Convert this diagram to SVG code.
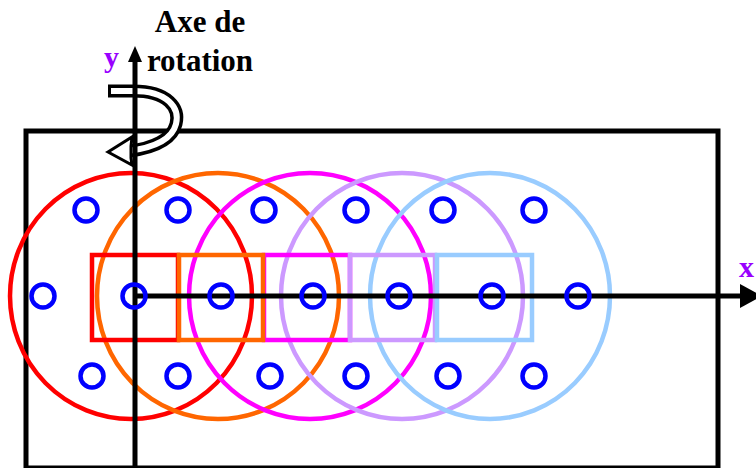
<svg xmlns="http://www.w3.org/2000/svg" width="756" height="468" viewBox="0 0 756 468">
<style>
.big{fill:none;stroke-width:4.5}
.rc{fill:none;stroke-width:4.5}
.dot{fill:none;stroke:#0000ff;stroke-width:4.5}
.lbl{font-family:"Liberation Serif","Times New Roman",serif;font-weight:bold}
.axis{stroke:#000;stroke-width:5;fill:none}
</style>
<rect width="756" height="468" fill="#fff"/>
<g id="frame"><rect x="26" y="131" width="692" height="337" fill="none" stroke="#000" stroke-width="5"/></g>
<g id="rotation-arrow">
<path d="M108,91 L133,91 C168,91 180,108 176,124 C172,140 152,148 130,151" fill="none" stroke="#000" stroke-width="13"/>
<path d="M111,91 L133,91 C168,91 180,108 176,124 C172,140 152,148 128,151" fill="none" stroke="#fff" stroke-width="6"/>
<polygon points="108,152 132,137 131,146 131,158 132,165" fill="#fff" stroke="#000" stroke-width="3" stroke-linejoin="miter"/>
</g>
<g id="circles">
<ellipse id="c-red" class="big" cx="131" cy="296" rx="121" ry="123" stroke="#ff0000"/>
<ellipse id="c-orange" class="big" cx="218" cy="296" rx="121" ry="123" stroke="#ff6600"/>
<ellipse id="c-magenta" class="big" cx="310" cy="296" rx="121" ry="123" stroke="#ff00ff"/>
<ellipse id="c-lilac" class="big" cx="402" cy="296" rx="121" ry="123" stroke="#cc99ff"/>
<ellipse id="c-blue" class="big" cx="490" cy="296" rx="120" ry="123" stroke="#99ccff"/>
</g>
<g id="rects">
<rect id="r-red" class="rc" x="92" y="255" width="86" height="85" stroke="#ff0000"/>
<rect id="r-magenta" class="rc" x="264" y="255" width="86" height="85" stroke="#ff00ff"/>
<rect id="r-orange" class="rc" x="179" y="255" width="84" height="85" stroke="#ff6600"/>
<rect id="r-lilac" class="rc" x="350" y="255" width="85" height="85" stroke="#cc99ff"/>
<rect id="r-blue" class="rc" x="437" y="255" width="95" height="85" stroke="#99ccff"/>
</g>
<g id="axes">
<line class="axis" x1="135" y1="468" x2="135" y2="60"/>
<polygon points="135,46 128,62 142,62" fill="#000"/>
<line class="axis" x1="135" y1="296" x2="744" y2="296"/>
<polygon points="740,284 762,296 740,308" fill="#000"/>
</g>
<g id="dots">
<circle class="dot" cx="86" cy="210" r="11.5"/>
<circle class="dot" cx="178" cy="210" r="11.5"/>
<circle class="dot" cx="264" cy="210" r="11.5"/>
<circle class="dot" cx="356" cy="210" r="11.5"/>
<circle class="dot" cx="443" cy="210" r="11.5"/>
<circle class="dot" cx="534" cy="210" r="11.5"/>
<circle class="dot" cx="43" cy="296" r="11.5"/>
<circle class="dot" cx="134" cy="296" r="11.5"/>
<circle class="dot" cx="221" cy="296" r="11.5"/>
<circle class="dot" cx="313" cy="296" r="11.5"/>
<circle class="dot" cx="399" cy="296" r="11.5"/>
<circle class="dot" cx="492" cy="296" r="11.5"/>
<circle class="dot" cx="578" cy="296" r="11.5"/>
<circle class="dot" cx="92" cy="376" r="11.5"/>
<circle class="dot" cx="178" cy="376" r="11.5"/>
<circle class="dot" cx="270" cy="376" r="11.5"/>
<circle class="dot" cx="356" cy="376" r="11.5"/>
<circle class="dot" cx="448" cy="376" r="11.5"/>
<circle class="dot" cx="534" cy="376" r="11.5"/>
</g>
<g id="labels">
<text class="lbl" x="200" y="32" font-size="31" text-anchor="middle" fill="#000">Axe de</text>
<text class="lbl" x="200" y="71" font-size="31" text-anchor="middle" fill="#000">rotation</text>
<text class="lbl" x="104" y="67" font-size="30" fill="#9900ff">y</text>
<text class="lbl" x="739" y="277" font-size="30" fill="#9900ff">x</text>
</g>
</svg>
